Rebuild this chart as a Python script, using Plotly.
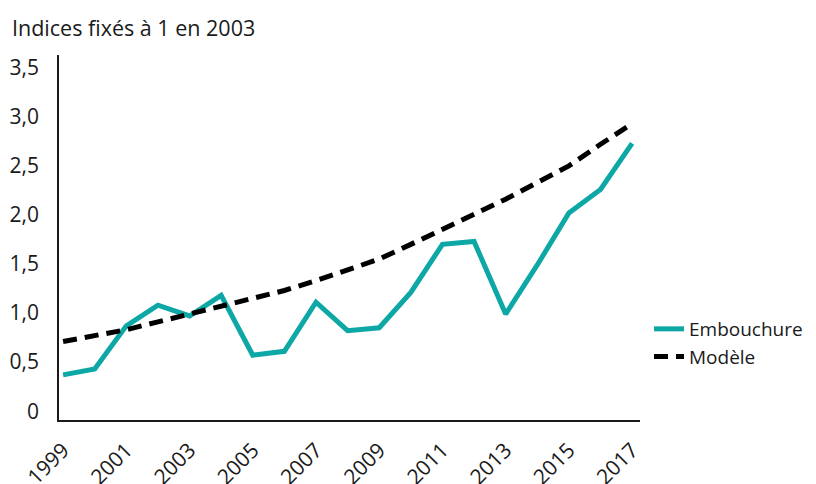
import plotly.graph_objects as go

years = list(range(1999, 2018))
embouchure = [0.37, 0.43, 0.87, 1.08, 0.97, 1.18, 0.57, 0.61, 1.11, 0.82, 0.85,
              1.21, 1.70, 1.73, 0.99, 1.49, 2.02, 2.26, 2.73]
modele = [0.71, 0.77, 0.83, 0.91, 0.99, 1.07, 1.14, 1.23, 1.33, 1.44, 1.55,
          1.70, 1.85, 2.00, 2.16, 2.33, 2.50, 2.72, 2.93]
x_ticks = list(range(1999, 2018, 2))
y_ticks = [0, 0.5, 1.0, 1.5, 2.0, 2.5, 3.0, 3.5]
y_labels = ["0", "0,5", "1,0", "1,5", "2,0", "2,5", "3,0", "3,5"]

FONT = "Open Sans"
TXT = "#1a1a1a"

fig = go.Figure()
fig.add_trace(go.Scatter(x=years, y=embouchure, mode="lines", name="Embouchure",
                         line=dict(color="#0DA8A6", width=5)))
fig.add_trace(go.Scatter(x=years, y=modele, mode="lines", name="Modèle",
                         line=dict(color="#000000", width=5, dash="14px,8px")))

fig.update_layout(
    width=816, height=484,
    margin=dict(l=59, r=176, t=55, b=64, autoexpand=False),
    paper_bgcolor="white", plot_bgcolor="white",
    font=dict(family=FONT, size=21, color=TXT),
    title=dict(text="Indices fixés à 1 en 2003", x=12/816, xanchor="left",
               y=1-28/484, yanchor="middle", xref="container",
               font=dict(family=FONT, size=21.5, color=TXT)),
    legend=dict(x=1.0 + 9/581, xanchor="left", y=(420-343)/365, yanchor="middle",
                font=dict(family=FONT, size=19, color=TXT),
                tracegroupgap=0, itemwidth=30, bgcolor="rgba(0,0,0,0)"),
    showlegend=True,
)
fig.update_xaxes(range=[1998.87, 2017.25], tickvals=x_ticks, ticktext=[str(v) for v in x_ticks],
                 tickangle=-45, showgrid=False, zeroline=False, showline=True, automargin=False,
                 linecolor=TXT, linewidth=1.5, ticks="", ticklabelstandoff=8,
                 tickfont=dict(family=FONT, size=21, color=TXT))
fig.update_yaxes(range=[-0.09, 3.63], tickvals=y_ticks, ticktext=y_labels,
                 showgrid=False, zeroline=False, showline=True, automargin=False,
                 linecolor=TXT, linewidth=1.5, ticks="", ticklabelstandoff=14,
                 tickfont=dict(family=FONT, size=21, color=TXT))

fig.write_html("out.html", config={"displayModeBar": False},
               post_script="document.body.style.margin='0';document.body.style.overflow='hidden';")
